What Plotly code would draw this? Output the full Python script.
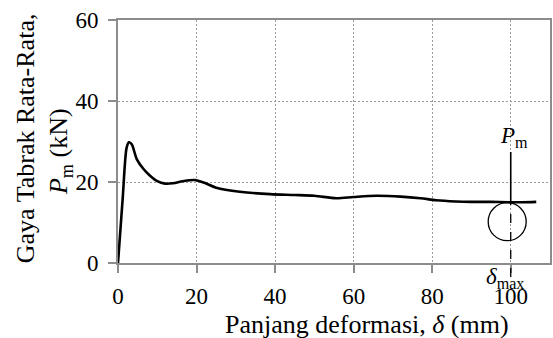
import plotly.graph_objects as go

# Data
deformation_mm = [0, 1.2, 2.2, 2.8, 3.5, 4.8, 6.5, 8.1, 10, 12, 14, 16.5, 19.5, 22, 25, 31, 38.7, 45, 50, 55.6, 60, 65.8, 72, 77, 81, 86, 90, 95, 99.7, 103, 106.5]
force_kN = [0, 16, 28.5, 29.8, 29.3, 25.6, 23.2, 21.6, 20.2, 19.6, 19.7, 20.2, 20.5, 19.8, 18.6, 17.6, 17.0, 16.8, 16.6, 16.0, 16.3, 16.6, 16.4, 16.0, 15.5, 15.2, 15.1, 15.1, 15.0, 15.0, 15.1]
x_ticks = [0, 20, 40, 60, 80, 100]
y_ticks = [0, 20, 40, 60]
x_range = [0, 110]
y_range = [0, 60]
delta_max = 100
p_m = 15.0
circle_center = (99.1, 10.2)

FONT = "Liberation Serif, Times New Roman, serif"
FS_TICK = 23
FS_TITLE = 26

fig = go.Figure()
fig.add_trace(go.Scatter(x=deformation_mm, y=force_kN, mode="lines",
                         line=dict(color="black", width=2.6, shape="spline", smoothing=0.8),
                         showlegend=False, hoverinfo="skip"))

axis_common = dict(showline=True, linecolor="#8c8c8c", linewidth=2, mirror=True,
                   showgrid=True, gridcolor="#9a9a9a", griddash="2px,2px", gridwidth=1.3,
                   ticks="outside", ticklen=8, tickcolor="#8c8c8c", tickwidth=2,
                   zeroline=False, automargin=False,
                   tickfont=dict(family=FONT, size=FS_TICK, color="black"))

fig.update_xaxes(range=x_range, tickvals=x_ticks, ticklabelstandoff=3, **axis_common)
fig.update_yaxes(range=y_range, tickvals=y_ticks, ticklabelstandoff=5, **axis_common)

# circle around delta_max point
fig.add_shape(type="circle", xref="x", yref="y", xsizemode="pixel", ysizemode="pixel",
              xanchor=circle_center[0], yanchor=circle_center[1],
              x0=-19, x1=19, y0=-19, y1=19, line=dict(color="black", width=1.3))
# solid vertical line from P_m label to curve
fig.add_shape(type="line", xref="x", yref="y", x0=delta_max, x1=delta_max,
              y0=p_m, y1=27.4, line=dict(color="black", width=1.6))
# dashed vertical line from curve down below axis
fig.add_shape(type="line", xref="x", yref="paper", x0=delta_max, x1=delta_max,
              y0=-0.058, y1=p_m / y_range[1], line=dict(color="black", width=1.3, dash="dash"))

fig.add_annotation(x=100.8, y=31.1, xref="x", yref="y", showarrow=False,
                   text="<i>P</i><sub>m</sub>", font=dict(family=FONT, size=FS_TICK, color="black"))
fig.add_annotation(x=98.5, y=-0.062, xref="x", yref="paper", showarrow=False,
                   yanchor="middle",
                   text="<i>δ</i><sub>max</sub>", font=dict(family=FONT, size=FS_TICK, color="black"))

fig.add_annotation(x=0.576, y=-0.255, xref="paper", yref="paper", showarrow=False,
                   xanchor="center", yanchor="middle",
                   text="Panjang deformasi, <i>δ</i> (mm)", font=dict(family=FONT, size=FS_TITLE, color="black"))
fig.add_annotation(x=-0.215, y=0.514, xref="paper", yref="paper", showarrow=False,
                   xanchor="center", yanchor="middle", textangle=-90,
                   text="Gaya Tabrak Rata-Rata,",
                   font=dict(family=FONT, size=FS_TITLE, color="black"))
fig.add_annotation(x=-0.134, y=0.457, xref="paper", yref="paper", showarrow=False,
                   xanchor="center", yanchor="middle", textangle=-90,
                   text="<i>P</i><sub>m</sub> (kN)",
                   font=dict(family=FONT, size=FS_TITLE, color="black"))

fig.update_layout(width=553, height=338, margin=dict(l=118, r=3, t=20, b=75),
                  font=dict(family=FONT, color="black"),
                  plot_bgcolor="white", paper_bgcolor="white")

fig.write_html("out.html", config={"displayModeBar": False},
               post_script="document.body.style.margin='0';document.body.style.padding='0';")
